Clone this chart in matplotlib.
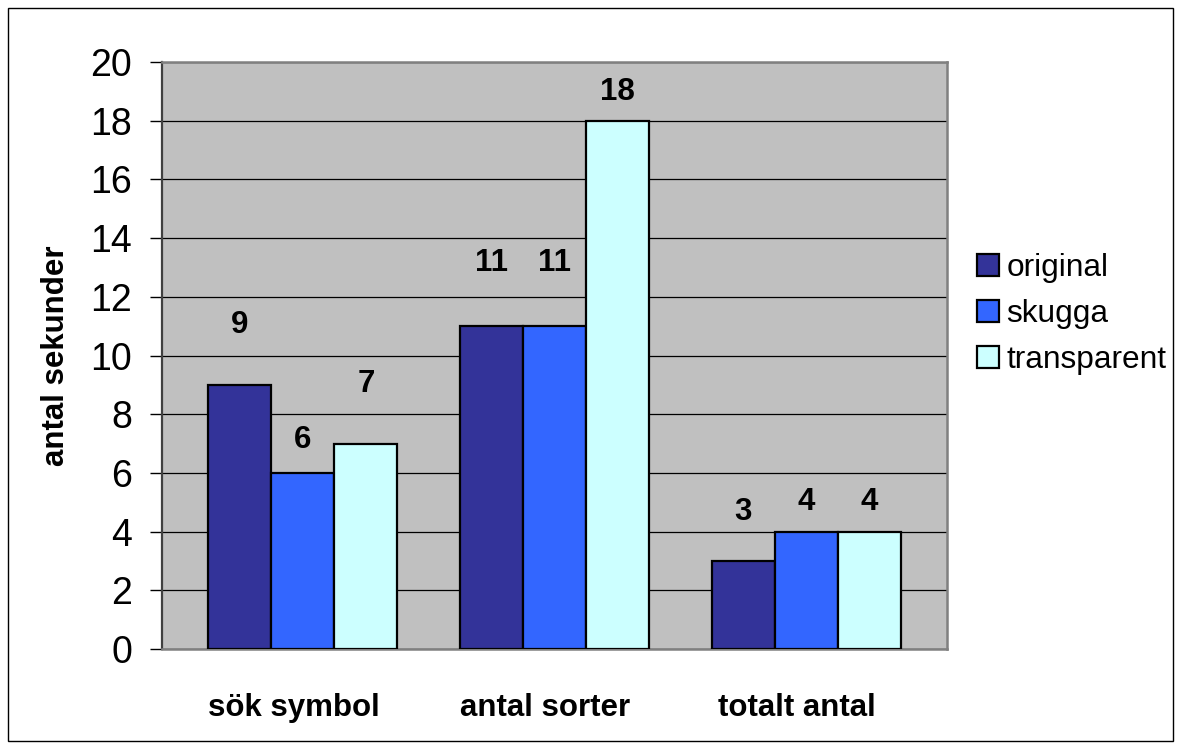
#!/usr/bin/env python3
import matplotlib
matplotlib.use('Agg')
import matplotlib.pyplot as plt
import numpy as np
from matplotlib.patches import Rectangle

categories = ['sök symbol', 'antal sorter', 'totalt antal']
series_names = ['original', 'skugga', 'transparent']
original = [9, 11, 3]
skugga = [6, 11, 4]
transparent = [7, 18, 4]
yticks = [0, 2, 4, 6, 8, 10, 12, 14, 16, 18, 20]

colors = ['#333399', '#3366ff', '#ccffff']
# how far (pixels) each value label sits above its bar top
label_offsets = [[60, 63, 49], [33, 63, 30], [60, 29, 30]]

plt.rcParams['font.family'] = ['Liberation Sans', 'DejaVu Sans']

W, H = 1182, 751
fig = plt.figure(figsize=(W / 100, H / 100), dpi=100)
ax = fig.add_axes([162 / W, (H - 649) / H, 785 / W, 587 / H])
ax.set_facecolor('#c0c0c0')

# outer chart frame
fig.patches.append(Rectangle((8 / W, 10 / H), 1165 / W, 733 / H,
                             transform=fig.transFigure, fill=False,
                             edgecolor='black', linewidth=1.0))

x = np.arange(len(categories))
width = 0.2505
data = [original, skugga, transparent]
for i, vals in enumerate(data):
    pos = x + (i - 1) * width
    ax.bar(pos, vals, width, color=colors[i], edgecolor='black',
           linewidth=1.6, label=series_names[i], zorder=3)
    for j, v in enumerate(vals):
        ax.annotate(str(v), (pos[j], v), xytext=(0, label_offsets[i][j]),
                    textcoords='offset pixels', ha='center', va='center',
                    fontsize=22.5, fontweight='bold', zorder=4)

ax.set_xlim(-0.5606, 2.5606)
ax.set_ylim(0, 20)
ax.set_yticks(yticks)
ax.yaxis.grid(True, color='black', linewidth=0.9, zorder=0)
ax.set_axisbelow(True)
ax.tick_params(axis='y', labelsize=27, length=8.6, width=1, pad=13, direction='out')
ax.set_xticks(x - 0.038)
ax.set_xticklabels(categories, fontsize=22.5, fontweight='bold')
ax.tick_params(axis='x', length=0, pad=32)

for side in ['top', 'right', 'bottom']:
    ax.spines[side].set_color('#808080')
    ax.spines[side].set_linewidth(1.8)
ax.spines['left'].set_color('#404040')
ax.spines['left'].set_linewidth(1.6)

ax.set_ylabel('antal sekunder', fontsize=22.5, fontweight='bold', labelpad=14)

ax.legend(loc='center left', bbox_to_anchor=(977 / W, (H - 314) / H),
          bbox_transform=fig.transFigure, frameon=False, fontsize=22.8,
          handlelength=0.7, handleheight=0.7, handletextpad=0.22,
          labelspacing=0.5, borderpad=0, borderaxespad=0)

fig.savefig('out.png', dpi=100, facecolor='white')
